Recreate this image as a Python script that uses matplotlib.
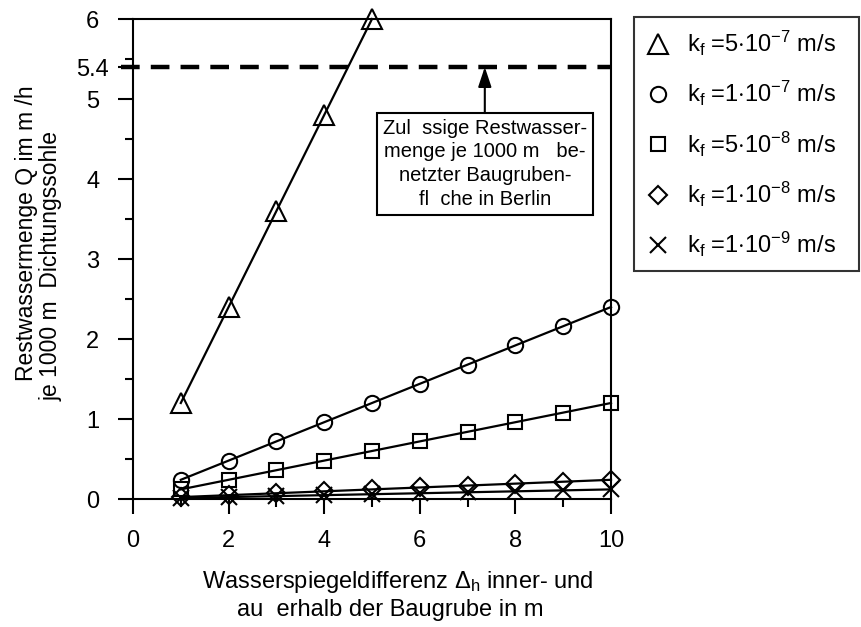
import matplotlib
matplotlib.use("Agg")
import matplotlib.pyplot as plt
from matplotlib.lines import Line2D
from matplotlib.patches import Rectangle

plt.rcParams['font.family'] = ['Liberation Sans', 'DejaVu Sans']
plt.rcParams['mathtext.fontset'] = 'custom'
plt.rcParams['mathtext.rm'] = 'Liberation Sans'
plt.rcParams['mathtext.it'] = 'Liberation Sans:italic'

# --- Daten ---
x_tri = [1, 2, 3, 4, 5]
q_tri = [1.2, 2.4, 3.6, 4.8, 6.0]

x_all = [1, 2, 3, 4, 5, 6, 7, 8, 9, 10]
q_circ = [0.24, 0.48, 0.72, 0.96, 1.20, 1.44, 1.68, 1.92, 2.16, 2.40]
q_sq = [0.12, 0.24, 0.36, 0.48, 0.60, 0.72, 0.84, 0.96, 1.08, 1.20]
q_dia = [0.024, 0.048, 0.072, 0.096, 0.12, 0.144, 0.168, 0.192, 0.216, 0.24]
q_x = [0.012, 0.024, 0.036, 0.048, 0.06, 0.072, 0.084, 0.096, 0.108, 0.12]

grenzwert = 5.4

labels = [r"k$_{\mathrm{f}}$ =5$\cdot$10$^{\mathrm{-7}}$ m/s",
          r"k$_{\mathrm{f}}$ =1$\cdot$10$^{\mathrm{-7}}$ m/s",
          r"k$_{\mathrm{f}}$ =5$\cdot$10$^{\mathrm{-8}}$ m/s",
          r"k$_{\mathrm{f}}$ =1$\cdot$10$^{\mathrm{-8}}$ m/s",
          r"k$_{\mathrm{f}}$ =1$\cdot$10$^{\mathrm{-9}}$ m/s"]

xticks = [0, 2, 4, 6, 8, 10]
yticks = [0, 1, 2, 3, 4, 5, 5.4, 6]
ytick_labels = ['0', '1', '2', '3', '4', '5', '5.4', '6']

# --- Figure ---
fig = plt.figure(figsize=(8.61, 6.27), dpi=100)
ax = fig.add_axes([133 / 861, 1 - 499 / 627, 478 / 861, 480 / 627])

serien = [(x_tri, q_tri, '^', 14), (x_all, q_circ, 'o', 11),
          (x_all, q_sq, 's', 10), (x_all, q_dia, 'D', 9),
          (x_all, q_x, 'x', 11)]
handles = []
for (xs, qs, m, ms), lab in zip(serien, labels):
    ax.plot(xs, qs, color='black', lw=1.6, marker=m, ms=ms, mfc='none',
            mec='black', mew=1.5, clip_on=False, zorder=3)
    handles.append(Line2D([], [], ls='none', marker=m, ms=ms, mfc='none',
                          mec='black', mew=1.5, label=lab))

# zulaessige Restwassermenge
ax.plot([-0.25, 10], [grenzwert, grenzwert], color='black', lw=3.2,
        dashes=(4.2, 2.5), clip_on=False, zorder=2)

ax.set_xlim(0, 10)
ax.set_ylim(0, 6)
for s in ax.spines.values():
    s.set_linewidth(1.5)

ax.set_xticks(xticks)
ax.set_xticks([1, 3, 5, 7, 9], minor=True)
ax.set_yticks(yticks)
ax.set_yticklabels(ytick_labels)
ax.set_yticks([0.5, 1.5, 2.5, 3.5, 4.5, 5.5], minor=True)
ax.tick_params(axis='both', which='major', direction='out', length=11, width=1.5,
               labelsize=17)
ax.tick_params(axis='both', which='minor', direction='out', length=5.5, width=1.5)
ax.tick_params(axis='x', which='major', pad=11)
ax.tick_params(axis='y', which='major', pad=18)
for t in ax.get_yticklabels():
    t.set_horizontalalignment('center')

# Hinweisbox
ax.add_patch(Rectangle((5.1, 3.55), 4.52, 1.275, facecolor='white',
                       edgecolor='black', lw=1.5, zorder=4))
ax.text(7.36, 4.19, "Zul  ssige Restwasser-\nmenge je 1000 m   be-\n"
        "netzter Baugruben-\nfl  che in Berlin", ha='center', va='center',
        multialignment='center', fontsize=14.5, linespacing=1.32, zorder=5)
ax.annotate('', xy=(7.36, grenzwert), xytext=(7.36, 4.825),
            arrowprops=dict(arrowstyle='-|>,head_length=0.6,head_width=0.2',
                            color='black', lw=1.5, mutation_scale=20,
                            shrinkA=0, shrinkB=0), zorder=5)

# Achsenbeschriftungen
fig.text(398 / 861, 1 - 582 / 627,
         r"Wasserspiegeldifferenz $\Delta_{\mathrm{h}}$ inner- und",
         ha='center', va='center', fontsize=17)
fig.text(390 / 861, 1 - 610 / 627, "au  erhalb der Baugrube in m",
         ha='center', va='center', fontsize=17)
fig.text(26 / 861, 1 - 381 / 627, "Restwassermenge Q im m /h",
         ha='left', va='center', rotation=90, rotation_mode='anchor',
         fontsize=16.5)
fig.text(51 / 861, 1 - 401 / 627, "je 1000 m  Dichtungssohle",
         ha='left', va='center', rotation=90, rotation_mode='anchor',
         fontsize=16.5)

leg = fig.legend(handles=handles, loc='upper left', mode='expand',
                 bbox_to_anchor=(634 / 861, 1 - 270 / 627, 225 / 861, 253 / 627),
                 fontsize=17, frameon=True, fancybox=False, edgecolor='black',
                 borderaxespad=0, borderpad=0.5, handlelength=1.0,
                 handletextpad=0.75, labelspacing=0.9)
leg.get_frame().set_linewidth(1.5)

fig.savefig('out.png', dpi=100)
